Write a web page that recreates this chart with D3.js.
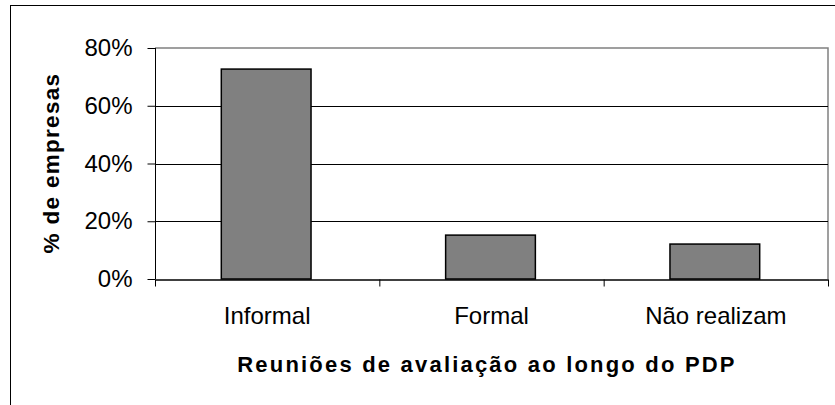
<!DOCTYPE html>
<html><head><meta charset="utf-8">
<script src="https://cdn.jsdelivr.net/npm/d3@7"></script>
<style>html,body{margin:0;padding:0;background:#fff;overflow:hidden}</style>
</head><body>
<script>
const categories = ["Informal", "Formal", "Não realizam"];
const values = [72.7, 15.2, 12.1];
const yTicks = [0, 20, 40, 60, 80];
const xTitle = "Reuniões de avaliação ao longo do PDP";
const yTitle = "% de empresas";

const W = 835, H = 405;
const m = {left: 155, top: 48, right: 828, bottom: 279};
const svg = d3.select("body").append("svg").attr("width", W).attr("height", H);
const font = "'Liberation Sans', Arial, sans-serif";

// outer border
svg.append("rect").attr("x", 10.5).attr("y", 5.5).attr("width", 840).attr("height", 420)
  .attr("fill", "none").attr("stroke", "#000").attr("stroke-width", 1);

const x = d3.scaleBand().domain(categories).range([m.left, m.right]).paddingInner(0.6).paddingOuter(0.3);
const xEdges = d3.scaleLinear().domain([0, categories.length]).range([m.left, m.right]);
const y = d3.scaleLinear().domain([0, 80]).range([m.bottom, m.top]);

// plot area border (top/right gray)
svg.append("path").attr("d", `M${m.left},${m.top}H${m.right}V${m.bottom}`)
  .attr("fill", "none").attr("stroke", "#808080").attr("stroke-width", 1.5);

// gridlines
svg.append("g").selectAll("line").data(yTicks.filter(d => d > 0 && d < 80)).join("line")
  .attr("x1", m.left).attr("x2", m.right)
  .attr("y1", d => Math.round(y(d)) + 0.5).attr("y2", d => Math.round(y(d)) + 0.5)
  .attr("stroke", "#000").attr("stroke-width", 1);

// bars
svg.append("g").selectAll("rect").data(values).join("rect")
  .attr("x", (d, i) => x(categories[i]) - 1)
  .attr("y", d => y(d))
  .attr("width", x.bandwidth())
  .attr("height", d => y(0) - y(d))
  .attr("fill", "#808080").attr("stroke", "#000").attr("stroke-width", 1.5);

// y axis
const yAxis = d3.axisLeft(y).tickValues(yTicks).tickFormat(d => d + "%").tickSize(8).tickPadding(15);
const gy = svg.append("g").attr("transform", `translate(${m.left + 0.5},0)`).call(yAxis);
gy.select(".domain").attr("stroke", "#000").attr("d", `M0,${m.top}V${m.bottom}`);
gy.selectAll(".tick line").attr("stroke", "#000");
gy.selectAll("text").attr("font-family", font).attr("font-size", 24).attr("fill", "#000");

// x axis line and ticks
const xAxis = d3.axisBottom(xEdges).tickValues(d3.range(categories.length + 1)).tickFormat("").tickSize(7).tickSizeOuter(0);
const gx = svg.append("g").attr("transform", `translate(0,${m.bottom + 0.5})`).call(xAxis);
gx.select(".domain").attr("stroke", "#000").attr("stroke-width", 1.5);
gx.selectAll(".tick line").attr("stroke", "#000");

// category labels
svg.append("g").selectAll("text").data(categories).join("text")
  .attr("x", d => x(d) + x.bandwidth() / 2).attr("y", 324)
  .attr("text-anchor", "middle").attr("font-family", font).attr("font-size", 24).attr("fill", "#000")
  .text(d => d);

// axis titles
svg.append("text").attr("x", 487).attr("y", 372).attr("text-anchor", "middle")
  .attr("font-family", font).attr("font-size", 22).attr("font-weight", "bold")
  .attr("letter-spacing", "2.2px").attr("fill", "#000").text(xTitle);

svg.append("text").attr("transform", "translate(59,163) rotate(-90)").attr("text-anchor", "middle")
  .attr("font-family", font).attr("font-size", 22.5).attr("font-weight", "bold")
  .attr("letter-spacing", "1.3px").attr("fill", "#000").text(yTitle);
</script>
</body></html>
